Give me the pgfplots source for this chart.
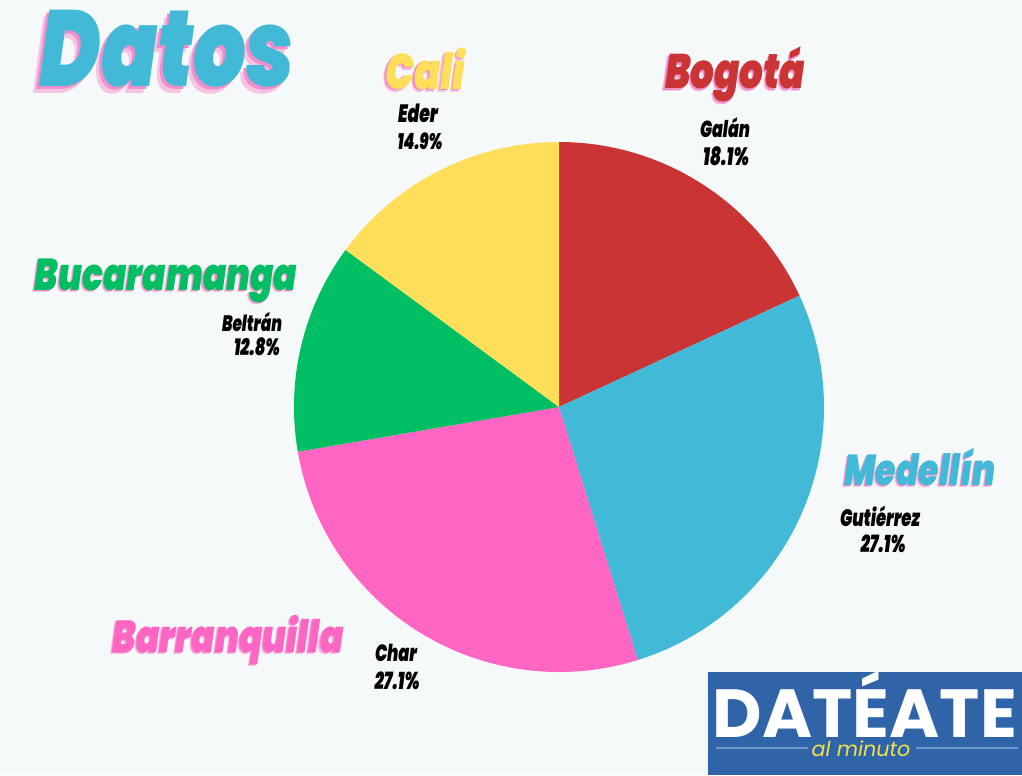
\documentclass[border=0pt]{standalone}
\usepackage{pgfplots}
\usepackage{pgfplotstable}
\usepackage{graphicx}
\usepackage{fontspec}
\pgfplotsset{compat=1.18}
\setmainfont{Poppins}
\newfontfamily\heavy{Poppins Black Italic}
\definecolor{bg}{HTML}{F5F9FA}
\definecolor{slice0}{HTML}{CB3434}
\definecolor{slice1}{HTML}{42B9D6}
\definecolor{slice2}{HTML}{FF66C4}
\definecolor{slice3}{HTML}{00BF63}
\definecolor{slice4}{HTML}{FFDE59}
\definecolor{shA}{HTML}{F7C3E3}
\definecolor{shB}{HTML}{EE8FCB}
\definecolor{logoblue}{HTML}{3064A8}
\definecolor{logoline}{HTML}{6E98CC}
\definecolor{logoyellow}{HTML}{F2E04C}

\pgfplotstableread{
city candidate value
Bogota Galan 18.1
Medellin Gutierrez 27.1
Barranquilla Char 27.1
Bucaramanga Beltran 12.8
Cali Eder 14.9
}\datatable

% one node: two pink shadow copies behind the coloured text
\newcommand\shadowed[3]{%
  \rlap{\hspace*{-#3}\hspace*{-#3}\raisebox{-#3}{\raisebox{-#3}{\color{shA}#2}}}%
  \rlap{\hspace*{-#3}\raisebox{-#3}{\color{shB}#2}}%
  {\color{#1}#2}}
% #1 x, #2 y, #3 width in px, #4 colour, #5 text, #6 shadow offset
\newcommand\bigtitle[6]{%
  \node at (axis cs:#1,#2) {\resizebox{#3\dimexpr 0.75pt\relax}{!}{\scalebox{1}[1.3]{\heavy\shadowed{#4}{#5}{#6}}}};
}
\newcommand\smalllbl[4]{%
  \node[text=black] at (axis cs:#1,#2) {\resizebox{#3\dimexpr 0.75pt\relax}{!}{\scalebox{1}[1.45]{\heavy #4}}};
}

\begin{document}
\begin{tikzpicture}
\begin{axis}[
  hide axis, scale only axis,
  width=766.5pt, height=581.25pt,
  xmin=0, xmax=1022, ymin=0, ymax=775,
  y dir=reverse, clip=false,
]
\fill[bg] (axis cs:0,0) rectangle (axis cs:1022,775);

\gdef\startang{90}
\pgfplotsforeachungrouped \i in {0,...,4}{%
  \pgfplotstablegetelem{\i}{value}\of\datatable
  \pgfmathsetmacro\endang{\startang - 3.6*\pgfplotsretval}%
  \edef\doplot{\noexpand\addplot[draw=none, fill=slice\i, domain=\endang:\startang, samples=90]
     ({559+265*cos(x)},{407-265*sin(x)}) -- (axis cs:559,407) -- cycle;}%
  \doplot
  \global\let\startang\endang
}

\bigtitle{167}{52}{255}{slice1}{Datos}{0.035em}
\bigtitle{425}{70}{80}{slice4}{Cali}{0.03em}
\bigtitle{735}{76}{140}{slice0}{Bogotá}{0.03em}
\bigtitle{166}{282}{262}{slice3}{Bucaramanga}{0.03em}
\bigtitle{920}{468}{152}{slice1}{Medellín}{0.03em}
\bigtitle{228}{641}{231}{slice2}{Barranquilla}{0.03em}

\smalllbl{418}{113}{40}{Eder}
\smalllbl{420}{141}{45}{14.9\%}
\smalllbl{725}{128}{50}{Galán}
\smalllbl{726}{156}{46}{18.1\%}
\smalllbl{252}{322}{60}{Beltrán}
\smalllbl{257}{347}{46}{12.8\%}
\smalllbl{880}{516}{80}{Gutiérrez}
\smalllbl{883}{544}{45}{27.1\%}
\smalllbl{396}{653}{42}{Char}
\smalllbl{397}{681}{45}{27.1\%}

\fill[logoblue] (axis cs:708,672) rectangle (axis cs:1022,775);
\draw[logoline, line width=0.8pt] (axis cs:716,748) -- (axis cs:808,748);
\draw[logoline, line width=0.8pt] (axis cs:916,748) -- (axis cs:1018,748);
\node[text=white] at (axis cs:865,704) {\resizebox{228pt}{!}{\bfseries DATÉATE}};
\node[text=logoyellow] at (axis cs:861,749) {\resizebox{74pt}{!}{\itshape al minuto}};
\end{axis}
\end{tikzpicture}
\end{document}
